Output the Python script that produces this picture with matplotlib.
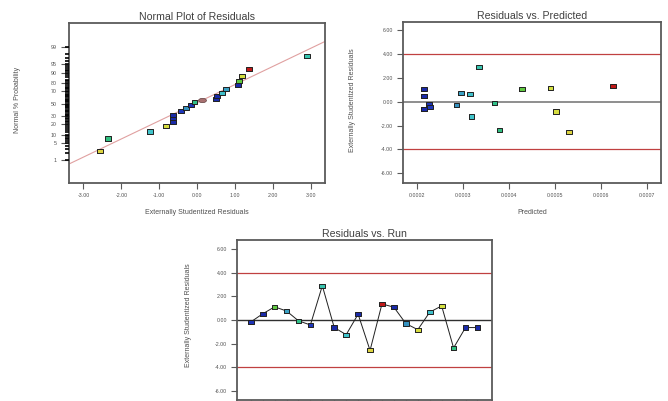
import math
import numpy as np
import matplotlib
matplotlib.use("Agg")
import matplotlib.pyplot as plt
from matplotlib.colors import LinearSegmentedColormap, Normalize

plt.rcParams['font.family'] = ['Liberation Sans', 'DejaVu Sans']

# ---------------- data ----------------
runs = list(range(1, 21))
residuals = [-0.17, 0.52, 1.11, 0.76, -0.07, -0.42, 2.89, -0.64, -1.24, 0.49,
             -2.57, 1.36, 1.08, -0.30, -0.82, 0.66, 1.19, -2.36, -0.64, -0.64]
predicted = [0.000225, 0.000214, 0.000428, 0.000295, 0.000368, 0.000228, 0.000334,
             0.000214, 0.000318, 0.000214, 0.000530, 0.000627, 0.000214, 0.000285,
             0.000502, 0.000315, 0.000490, 0.000379, 0.000214, 0.000214]
# normal-plot probabilities (%), in ascending residual order
normal_prob = [2.5, 7.5, 12.5, 17.5, 22.5, 27.5, 32.5, 37.5, 42.5, 47.5,
               52.5, 57.5, 62.5, 67.5, 72.5, 77.5, 82.5, 87.5, 92.5, 97.5]
extra_marker_x = [0.14]
extra_marker_p = [56.0]
ref_line_intercept = 0.04   # in normal-score units
ref_line_slope = 0.75
limit_lines = [4.0, -4.0]

prob_ticks = [1, 5, 10, 20, 30, 50, 70, 80, 90, 95, 99]
prob_minor = [1, 2, 3, 4, 5, 6, 7, 8, 9, 10, 12, 14, 16, 18, 20, 22, 24, 26, 28,
              30, 32, 34, 36, 38, 40, 42, 44, 46, 48, 50, 52, 54, 56, 58, 60, 62,
              64, 66, 68, 70, 72, 74, 76, 78, 80, 82, 84, 86, 88, 90, 91, 92, 93,
              94, 95, 96, 97, 98, 99]
normal_xticks = [-3, -2, -1, 0, 1, 2, 3]
pred_xticks = [0.0002, 0.0003, 0.0004, 0.0005, 0.0006, 0.0007]
res_yticks = [-6, -4, -2, 0, 2, 4, 6]


def norm_ppf(p):
    """Inverse standard normal CDF via bisection (p in 0..1)."""
    lo, hi = -10.0, 10.0
    for _ in range(80):
        mid = 0.5 * (lo + hi)
        if 0.5 * (1 + math.erf(mid / math.sqrt(2))) < p:
            lo = mid
        else:
            hi = mid
    return 0.5 * (lo + hi)


W, H = 668, 401
fig = plt.figure(figsize=(W / 100, H / 100), dpi=100)
fig.patch.set_facecolor('white')


def px_axes(left, top, right, bottom):
    return fig.add_axes([left / W, (H - bottom) / H, (right - left) / W, (bottom - top) / H])


cmap = LinearSegmentedColormap.from_list('de', [
    (0.00, '#1a2aa8'), (0.05, '#2040c8'), (0.17, '#3590c0'), (0.25, '#40c4cc'),
    (0.32, '#34c49a'), (0.40, '#30c080'), (0.52, '#60c840'), (0.67, '#d4e040'),
    (0.80, '#e0d040'), (1.00, '#c01818')])
norm = Normalize(vmin=min(predicted), vmax=max(predicted))
colors = [cmap(norm(p)) for p in predicted]

rect = [(-1, -0.72), (1, -0.72), (1, 0.72), (-1, 0.72), (-1, -0.72)]
t = np.linspace(0, 2 * np.pi, 40)
ell = list(zip(np.cos(t), 0.55 * np.sin(t)))

spine_col = '#5a5a5a'
text_col = '#505050'
MS = 17


def style(ax):
    for s in ax.spines.values():
        s.set_color(spine_col)
        s.set_linewidth(1.3)
    ax.tick_params(colors=spine_col, labelcolor=text_col, labelsize=3.8,
                   length=4, width=0.8, direction='out', pad=3)


# ---------------- Normal plot ----------------
ax1 = px_axes(69, 23, 325, 183)
style(ax1)
order = sorted(range(len(residuals)), key=lambda i: residuals[i])
xs = [residuals[i] for i in order]
zs = [norm_ppf(p / 100) for p in normal_prob]
cs = [colors[i] for i in order]
xl = np.array([-3.38, 3.37])
ax1.plot(xl, ref_line_intercept + ref_line_slope * xl, color='#e0a0a0', lw=0.8, zorder=1)
ax1.scatter(xs, zs, c=cs, marker=rect, s=MS, edgecolors='#202020', linewidths=0.7, zorder=3)
ax1.scatter(extra_marker_x, [norm_ppf(p / 100) for p in extra_marker_p], c='#a87070',
            marker=ell, s=32, edgecolors='#604040', linewidths=0.5, zorder=3)
ax1.set_xlim(-3.38, 3.37)
ax1.set_ylim(-3.28, 3.33)
ax1.set_xticks(normal_xticks)
ax1.set_xticklabels(['%.2f' % v for v in normal_xticks])
ax1.set_yticks([norm_ppf(p / 100) for p in prob_ticks])
ax1.set_yticklabels([str(p) for p in prob_ticks])
ax1.tick_params(axis='y', which='major', length=6)
# dense minor ticks on the probability axis
ax1.hlines([norm_ppf(p / 100) for p in prob_minor], -0.015, 0.0,
           transform=ax1.get_yaxis_transform(), colors='black', lw=1.2,
           clip_on=False, zorder=5)
ax1.set_title('Normal Plot of Residuals', fontsize=7.6, color='#404040', pad=2)

# ---------------- Residuals vs Predicted ----------------
ax2 = px_axes(403, 22, 661, 183)
style(ax2)
ax2.axhline(0, color='#707070', lw=1.1, zorder=1)
for v in limit_lines:
    ax2.axhline(v, color='#c04040', lw=0.9, zorder=1)
ax2.scatter(predicted, residuals, c=colors, marker=rect, s=MS, edgecolors='#202020',
            linewidths=0.7, zorder=3)
ax2.set_xlim(0.0001686, 0.000731)
ax2.set_ylim(-6.82, 6.70)
ax2.set_xticks(pred_xticks)
ax2.set_xticklabels(['%.4f' % v for v in pred_xticks])
ax2.set_yticks(res_yticks)
ax2.set_yticklabels(['%.2f' % v for v in res_yticks])
ax2.set_title('Residuals vs. Predicted', fontsize=7.6, color='#404040', pad=2)

# ---------------- Residuals vs Run ----------------
ax3 = px_axes(237, 240, 492, 399.5)
style(ax3)
ax3.axhline(0, color='#303030', lw=1.0, zorder=1)
for v in limit_lines:
    ax3.axhline(v, color='#c04040', lw=0.9, zorder=1)
ax3.plot(runs, residuals, color='#202020', lw=0.7, zorder=2)
ax3.scatter(runs, residuals, c=colors, marker=rect, s=MS, edgecolors='#202020',
            linewidths=0.7, zorder=3)
ax3.set_xlim(-0.15, 21.22)
ax3.set_ylim(-6.72, 6.76)
ax3.set_xticks(runs)
ax3.set_xticklabels([])
ax3.set_yticks(res_yticks)
ax3.set_yticklabels(['%.2f' % v for v in res_yticks])
ax3.set_title('Residuals vs. Run', fontsize=7.6, color='#404040', pad=2)

# ---------------- axis labels ----------------
lab = dict(fontsize=5, color=text_col, ha='center', va='center')
fig.text(197 / W, 1 - 213 / H, 'Externally Studentized Residuals', **lab)
fig.text(18 / W, 1 - 100 / H, 'Normal % Probability', rotation=90, **lab)
fig.text(532 / W, 1 - 213 / H, 'Predicted', **lab)
fig.text(352 / W, 1 - 100 / H, 'Externally Studentized Residuals', rotation=90, **lab)
fig.text(189 / W, 1 - 315 / H, 'Externally Studentized Residuals', rotation=90, **lab)

fig.savefig('out.png', dpi=100, facecolor='white')
